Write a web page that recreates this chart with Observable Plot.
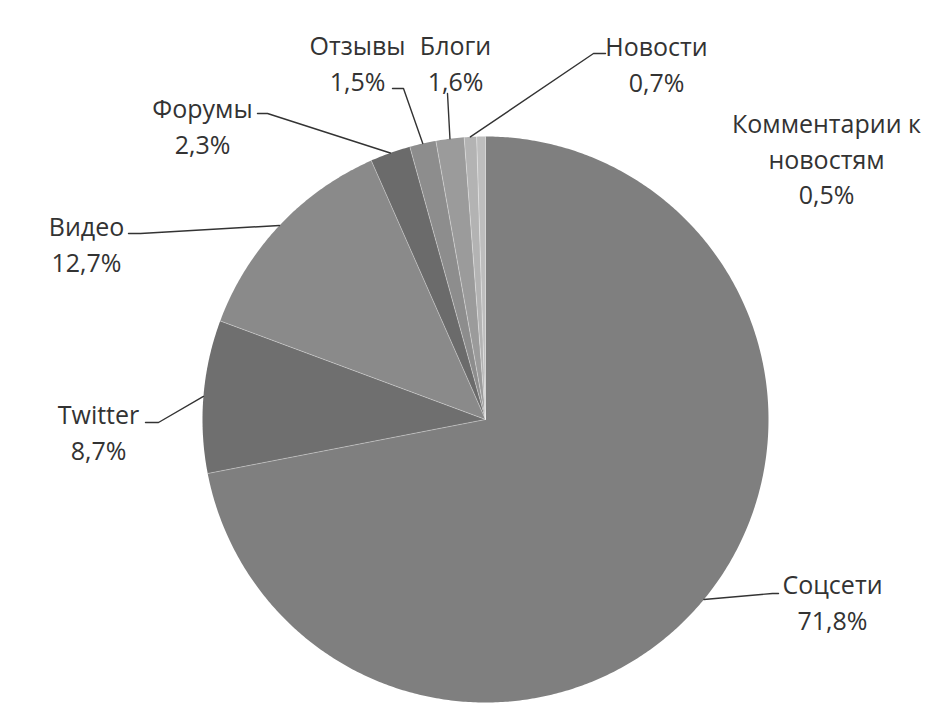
<!DOCTYPE html>
<html>
<head>
<meta charset="utf-8">
<script src="https://cdn.jsdelivr.net/npm/d3@7"></script>
<script src="https://cdn.jsdelivr.net/npm/@observablehq/plot@0.6"></script>
<style>
  html, body { margin: 0; padding: 0; background: #ffffff; }
  #chart { width: 946px; height: 704px; }
</style>
</head>
<body>
<div id="chart"></div>
<script>
// ---- data ----
const categories = ["Соцсети", "Twitter", "Видео", "Форумы", "Отзывы", "Блоги", "Новости", "Комментарии к новостям"];
const shares = [71.8, 8.7, 12.7, 2.3, 1.5, 1.6, 0.7, 0.5];
const labelNames = ["Соцсети", "Twitter", "Видео", "Форумы", "Отзывы", "Блоги", "Новости", "Комментарии к\nновостям"];
const sliceColors = ["#7f7f7f", "#6f6f6f", "#8a8a8a", "#6b6b6b", "#8d8d8d", "#9b9b9b", "#b3b3b3", "#bebebe"];

// ---- layout (label placement, in chart units) ----
const labelX = [832, 98, 86, 202, 357, 455, 656, 826];
const labelY = [600, 430, 242, 124, 61, 61, 62, 157];
// leader elbows: [elbow, end] per category (null = no leader)
const leaderBends = [
  [[772, 593], [778, 593]],
  [[158, 422], [145, 422]],
  [[140, 233], [128, 233]],
  [[267, 113], [257, 113]],
  [[403, 88], [392, 88]],
  [[447, 93]],
  [[593, 53], [605, 53]],
  null
];

const W = 946, H = 704;
const cx = 485, cy = 419, R = 283;

const data = categories.map((c, i) => ({name: c, value: shares[i], color: sliceColors[i], i}));
const arcs = d3.pie().value(d => d.value).sort(null).startAngle(0).endAngle(2 * Math.PI)(data);

const px = a => cx + R * Math.sin(a);
const py = a => cy - R * Math.cos(a);

// slice outlines
const slicePts = [];
arcs.forEach(a => {
  slicePts.push({name: a.data.name, color: a.data.color, x: cx, y: cy});
  const n = Math.max(2, Math.ceil((a.endAngle - a.startAngle) / (Math.PI / 360)));
  for (let k = 0; k <= n; k++) {
    const t = a.startAngle + (a.endAngle - a.startAngle) * k / n;
    slicePts.push({name: a.data.name, color: a.data.color, x: px(t), y: py(t)});
  }
});

// radial separators
const seps = arcs.map(a => ({x1: cx, y1: cy, x2: px(a.startAngle), y2: py(a.startAngle)}));

// leader lines
const leaderPts = [];
arcs.forEach((a, i) => {
  const bends = leaderBends[i];
  if (!bends) return;
  const m = (a.startAngle + a.endAngle) / 2;
  leaderPts.push({name: a.data.name, x: px(m), y: py(m)});
  bends.forEach(b => leaderPts.push({name: a.data.name, x: b[0], y: b[1]}));
});

const fmt = v => v.toFixed(1).replace(".", ",") + "%";
const labels = data.map((d, i) => ({
  x: labelX[i], y: labelY[i], text: labelNames[i] + "\n" + fmt(d.value)
}));

const chart = Plot.plot({
  width: W, height: H, margin: 0,
  style: {background: "#ffffff"},
  x: {domain: [0, W], range: [0, W], axis: null},
  y: {domain: [0, H], range: [0, H], axis: null},
  color: {type: "identity"},
  marks: [
    Plot.line(slicePts, {x: "x", y: "y", z: "name", fill: "color", stroke: "none", curve: "linear"}),
    Plot.link(seps, {x1: "x1", y1: "y1", x2: "x2", y2: "y2", stroke: "#ffffff", strokeOpacity: 0.35, strokeWidth: 1}),
    Plot.line(leaderPts, {x: "x", y: "y", z: "name", stroke: "#333333", strokeWidth: 1.4, curve: "linear"}),
    Plot.text(labels, {x: "x", y: "y", text: "text", fontSize: 25, fontFamily: "'Open Sans', sans-serif",
      fill: "#333333", lineHeight: 1.42, textAnchor: "middle"})
  ]
});
document.getElementById("chart").appendChild(chart);
</script>
</body>
</html>
